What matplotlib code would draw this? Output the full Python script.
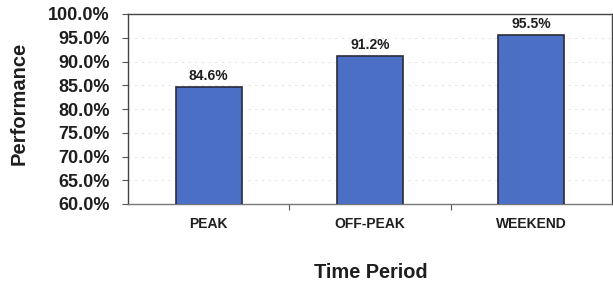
import matplotlib
matplotlib.use("Agg")
import matplotlib.pyplot as plt
from matplotlib.ticker import FuncFormatter, MultipleLocator

categories = ["PEAK", "OFF-PEAK", "WEEKEND"]
values = [84.6, 91.2, 95.5]
value_labels = ["84.6%", "91.2%", "95.5%"]

plt.rcParams['font.family'] = ['Liberation Sans', 'DejaVu Sans']
plt.rcParams['font.weight'] = 'bold'

fig = plt.figure(figsize=(6.13, 2.86), dpi=100)
W, H = 613, 286
ax = fig.add_axes([128 / W, 1 - 204 / H, (612 - 128) / W, (204 - 14) / H])

x = list(range(len(categories)))
ax.bar(x, values, width=0.41, color="#4a6fc4", edgecolor="#2b2b3a", linewidth=1.2, zorder=3)
for xi, v, lab in zip(x, values, value_labels):
    ax.text(xi, v + 0.9, lab, ha="center", va="bottom", fontsize=10, fontweight="bold",
            color="#1e1e1e")

ax.set_xlim(-0.5, 2.5)
ax.set_ylim(60, 100)
ax.yaxis.set_major_locator(MultipleLocator(5))
ax.yaxis.set_major_formatter(FuncFormatter(lambda v, p: f"{v:.1f}%"))
ax.set_xticks(x)
ax.set_xticklabels(categories, fontsize=10, fontweight="bold", color="#1e1e1e")
ax.tick_params(axis="x", length=0, pad=9)
ax.tick_params(axis="y", labelsize=13, length=4, width=0.8, color="#555555", pad=9, labelcolor="#1e1e1e")
ax.set_xticks([0.5, 1.5], minor=True)
ax.tick_params(axis="x", which="minor", length=4, width=0.8, color="#555555")

ax.yaxis.grid(True, color="#e6e6e6", linestyle=(0, (2, 4)), linewidth=0.8, zorder=0)
for s in ax.spines.values():
    s.set_color("#444444")
    s.set_linewidth(1.0)
ax.spines["bottom"].set_color("#777777")

fig.text(19 / W, 1 - 103 / H, "Performance", rotation=90, ha="center", va="center",
         fontsize=14.5, fontweight="bold", color="#1e1e1e")
fig.text(371 / W, 1 - 272 / H, "Time Period", ha="center", va="center",
         fontsize=14.4, fontweight="bold", color="#1e1e1e")

fig.savefig("out.png", dpi=100)
